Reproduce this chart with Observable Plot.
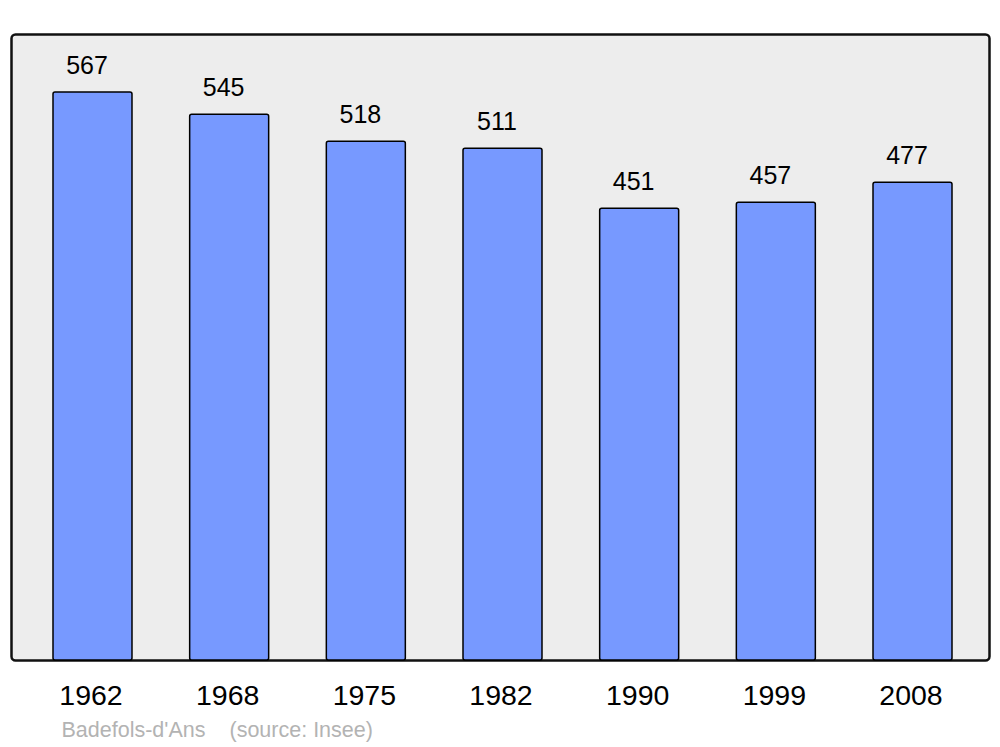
<!DOCTYPE html>
<html>
<head>
<meta charset="utf-8">
<script src="https://cdn.jsdelivr.net/npm/d3@7"></script>
<script src="https://cdn.jsdelivr.net/npm/@observablehq/plot@0.6"></script>
<style>
  html, body { margin: 0; padding: 0; background: #fff; }
  svg { display: block; font-family: "Liberation Sans", Arial, sans-serif; }
</style>
</head>
<body>
<div id="chart"></div>
<script>
const years = ["1962", "1968", "1975", "1982", "1990", "1999", "2008"];
const population = [567, 545, 518, 511, 451, 457, 477];
const captionParts = ["Badefols-d'Ans", "(source: Insee)"];

const data = years.map((y, i) => ({year: y, value: population[i]}));

const chart = Plot.plot({
  width: 1000,
  height: 747,
  marginLeft: 11,
  marginRight: 11,
  marginTop: 34,
  marginBottom: 87,
  style: {fontFamily: "'Liberation Sans', Arial, sans-serif", background: "#fff"},
  x: {domain: years, range: [53, 952], paddingInner: 0.422, paddingOuter: 0, round: false, label: null},
  y: {domain: [0, 625], axis: null},
  marks: [
    Plot.frame({fill: "#ededed", stroke: "#111", strokeWidth: 2.5, rx: 4}),
    Plot.barY(data, {x: "year", y: "value", fill: "#7799ff", stroke: "#000", strokeWidth: 1.5, rx: 2}),
    Plot.text(data, {x: "year", y: "value", text: d => String(d.value), dy: -19, dx: -6, lineAnchor: "bottom", fontSize: 25, fill: "#000"}),
    Plot.axisX({tickSize: 0, tickPadding: 24, fontSize: 28.5, dx: -2, color: "#000", label: null}),
    Plot.text([captionParts[0]], {frameAnchor: "bottom-left", dx: 50, dy: 70, textAnchor: "start", lineAnchor: "middle", fontSize: 21.5, fill: "#b3b3b3"}),
    Plot.text([captionParts[1]], {frameAnchor: "bottom-left", dx: 218, dy: 70, textAnchor: "start", lineAnchor: "middle", fontSize: 21.5, fill: "#b3b3b3"})
  ]
});
document.getElementById("chart").appendChild(chart);
</script>
</body>
</html>
